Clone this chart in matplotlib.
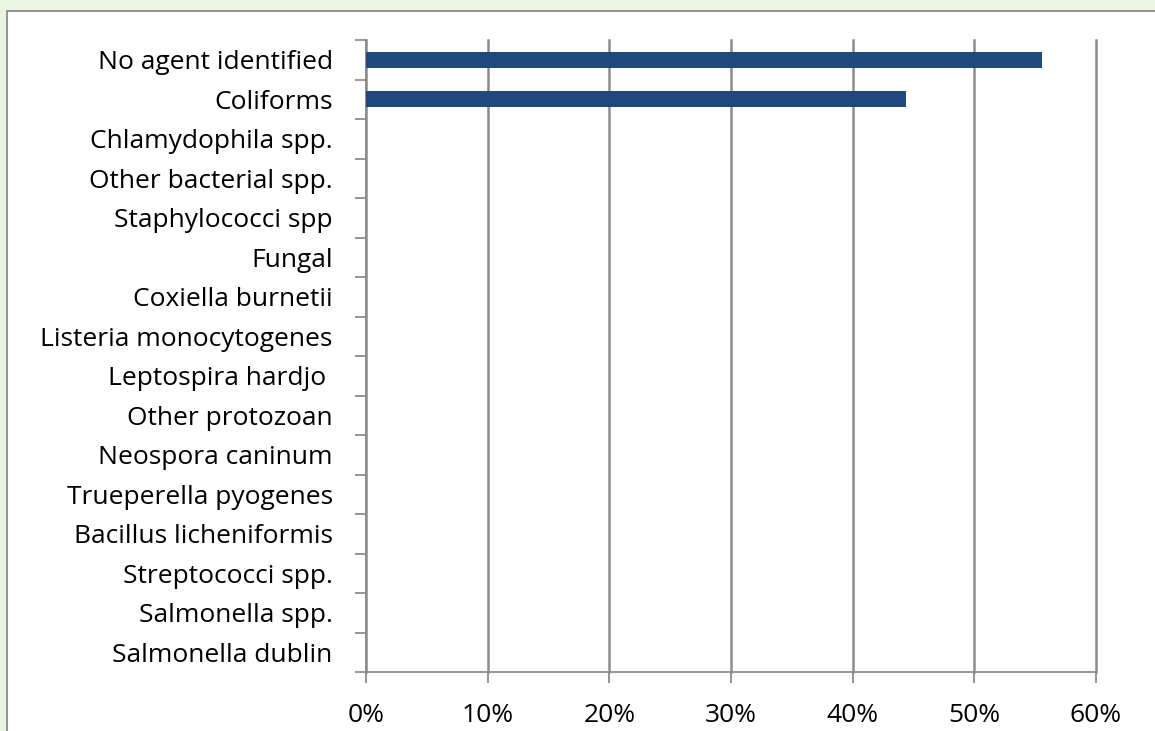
import numpy as np
import matplotlib.pyplot as plt
from matplotlib.patches import Rectangle
from matplotlib.ticker import FuncFormatter

categories = ["No agent identified", "Coliforms", "Chlamydophila spp.",
              "Other bacterial spp.", "Staphylococci spp", "Fungal",
              "Coxiella burnetii", "Listeria monocytogenes", "Leptospira hardjo ",
              "Other protozoan", "Neospora caninum", "Trueperella pyogenes",
              "Bacillus licheniformis", "Streptococci spp.", "Salmonella spp.",
              "Salmonella dublin"]
values = [55.6, 44.4, 0, 0, 0, 0, 0, 0, 0, 0, 0, 0, 0, 0, 0, 0]
xticks = [0, 10, 20, 30, 40, 50, 60]

plt.rcParams["font.family"] = ["Open Sans", "DejaVu Sans"]

fig = plt.figure(figsize=(11.55, 7.31), dpi=100)
fig.patch.set_facecolor("#ebf4e0")

# white inner panel with grey border
W, H = 1155, 731
fig.patches.append(Rectangle((7 / W, -0.05), 1.1, (731 - 11) / H + 0.05,
                             transform=fig.transFigure, facecolor="white",
                             edgecolor="#8c8c8c", linewidth=1.3, zorder=-1))

ax = fig.add_axes([366 / W, 1 - 672 / H, (1096 - 366) / W, (672 - 40) / H])
ax.set_zorder(1)
ax.set_facecolor("none")

n = len(categories)
ypos = np.arange(n)
ax.barh(ypos, values, height=0.4, color="#1f497d", edgecolor="none", zorder=3)

ax.set_xlim(0, 60)
ax.set_ylim(n - 0.5, -0.5)
ax.set_xticks(xticks)
ax.xaxis.set_major_formatter(FuncFormatter(lambda v, p: f"{v:.0f}%"))
ax.grid(axis="x", color="#8c8c8c", linewidth=1.8, zorder=1)
for gl in ax.get_xgridlines():
    gl.set_clip_on(False)

ax.set_yticks(ypos)
ax.set_yticklabels(categories)
ax.set_yticks(np.arange(n + 1) - 0.5, minor=True)
ax.tick_params(axis="y", which="major", length=0, pad=24, labelsize=19)
ax.tick_params(axis="y", which="minor", length=8, width=1.3, color="#8c8c8c")
ax.tick_params(axis="x", length=8, width=1.3, color="#8c8c8c", pad=14,
               labelsize=19)

for s in ["top", "right"]:
    ax.spines[s].set_visible(False)
for s in ["left", "bottom"]:
    ax.spines[s].set_color("#8c8c8c")
    ax.spines[s].set_linewidth(1.3)

fig.savefig("out.png", dpi=100)
